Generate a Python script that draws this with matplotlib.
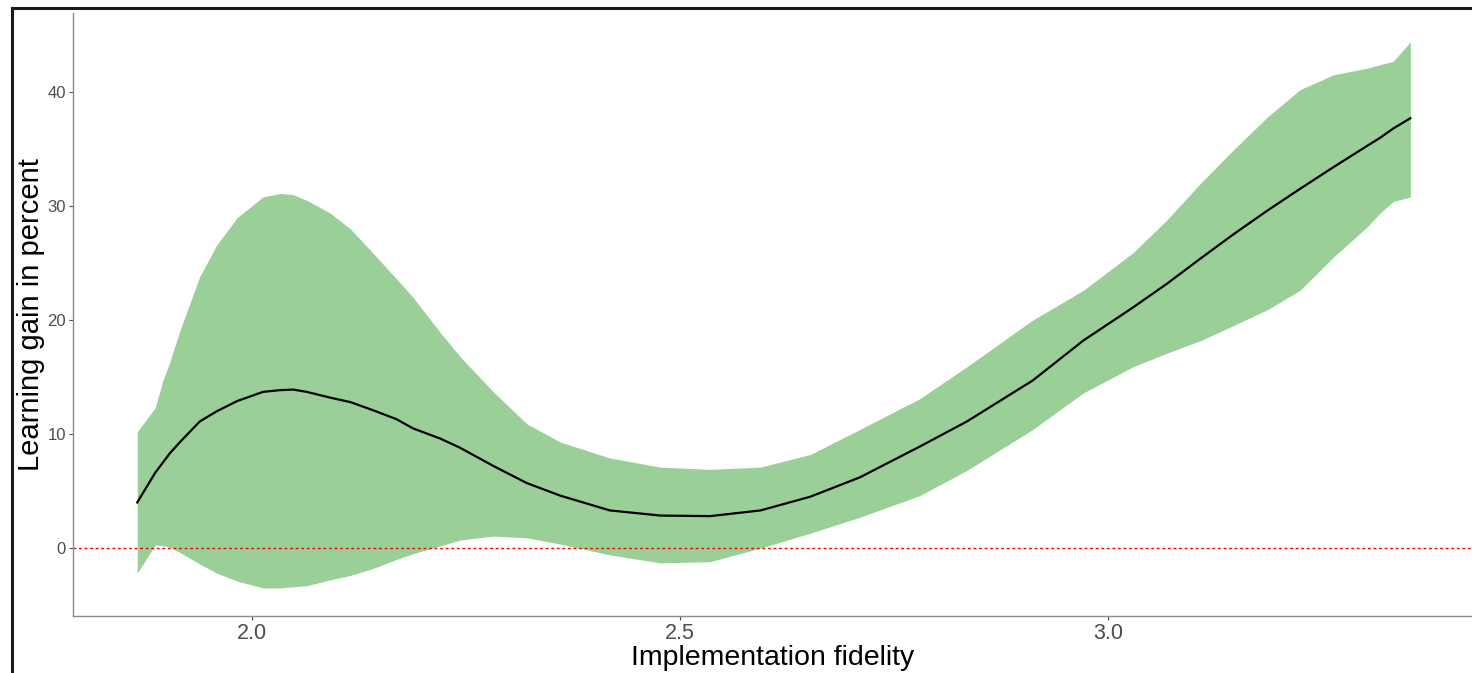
import matplotlib
matplotlib.use("Agg")
import matplotlib.pyplot as plt
from matplotlib.lines import Line2D

plt.rcParams['font.family'] = ['Liberation Sans', 'DejaVu Sans']

# implementation fidelity grid
fidelity = [1.866, 1.887, 1.896, 1.904, 1.916, 1.939, 1.959, 1.983, 2.013, 2.033,
            2.048, 2.064, 2.091, 2.115, 2.141, 2.169, 2.188, 2.220, 2.243, 2.282,
            2.321, 2.360, 2.418, 2.477, 2.535, 2.594, 2.652, 2.710, 2.780, 2.835,
            2.912, 2.971, 3.029, 3.069, 3.108, 3.146, 3.186, 3.224, 3.263, 3.303,
            3.318, 3.333, 3.353]

# fitted learning gain (%)
gain = [4.0, 6.6, 7.5, 8.3, 9.3, 11.1, 12.0, 12.9, 13.7, 13.85,
        13.9, 13.7, 13.2, 12.8, 12.1, 11.3, 10.5, 9.6, 8.8, 7.2,
        5.7, 4.6, 3.3, 2.85, 2.8, 3.3, 4.5, 6.2, 8.9, 11.1,
        14.7, 18.2, 21.1, 23.2, 25.4, 27.5, 29.6, 31.5, 33.4, 35.3,
        36.0, 36.8, 37.7]

# confidence band
upper = [10.2, 12.3, 14.7, 16.3, 19.1, 23.8, 26.6, 29.0, 30.8, 31.1,
         31.0, 30.5, 29.4, 28.0, 25.9, 23.6, 22.0, 18.9, 16.8, 13.7,
         10.9, 9.3, 7.9, 7.1, 6.9, 7.1, 8.2, 10.4, 13.1, 15.9,
         20.0, 22.6, 25.9, 28.8, 32.0, 34.9, 37.8, 40.2, 41.5, 42.1,
         42.4, 42.7, 44.4]
lower = [-2.2, 0.26, 0.2, 0.1, -0.4, -1.4, -2.2, -2.9, -3.5, -3.5,
         -3.4, -3.3, -2.8, -2.4, -1.8, -1.0, -0.5, 0.2, 0.7, 1.05,
         0.9, 0.35, -0.6, -1.3, -1.2, 0.0, 1.3, 2.7, 4.6, 6.8,
         10.4, 13.6, 15.9, 17.1, 18.2, 19.5, 20.9, 22.6, 25.5, 28.2,
         29.4, 30.4, 30.8]

fig = plt.figure(figsize=(14.72, 6.73), dpi=100)
ax = fig.add_axes([73/1472, 1 - 616/673, 1 - 73/1472, (616 - 13)/673])

ax.fill_between(fidelity, lower, upper, color="#9ACF98", linewidth=0)
ax.plot(fidelity, gain, color="black", linewidth=1.6, solid_joinstyle="round")
ax.axhline(0, color="red", linewidth=1.0, linestyle=(0, (2, 2)))

ax.set_xlim(1.791, 3.425)
ax.set_ylim(-5.96, 46.93)
ax.set_xticks([2.0, 2.5, 3.0])
ax.set_xticklabels(["2.0", "2.5", "3.0"])
ax.set_yticks([0, 10, 20, 30, 40])

for s in ["top", "right"]:
    ax.spines[s].set_visible(False)
for s in ["left", "bottom"]:
    ax.spines[s].set_color("#8c8c8c")
    ax.spines[s].set_linewidth(1.0)

ax.tick_params(axis="y", colors="#4d4d4d", labelsize=12, length=3, width=0.8, pad=2)
ax.tick_params(axis="x", colors="#4d4d4d", labelsize=15.5, length=3, width=0.8, pad=2)

ax.set_xlabel("Implementation fidelity", fontsize=20.5, labelpad=0.5)
ax.set_ylabel("Learning gain in percent", fontsize=21, labelpad=2)

# screenshot frame (left and top edges)
fig.add_artist(Line2D([12/1472, 12/1472], [0, 1 - 8/673], color="#1a1a1a", linewidth=2.2))
fig.add_artist(Line2D([12/1472, 1], [1 - 8/673, 1 - 8/673], color="#1a1a1a", linewidth=2.2))

fig.savefig("out.png", dpi=100)
